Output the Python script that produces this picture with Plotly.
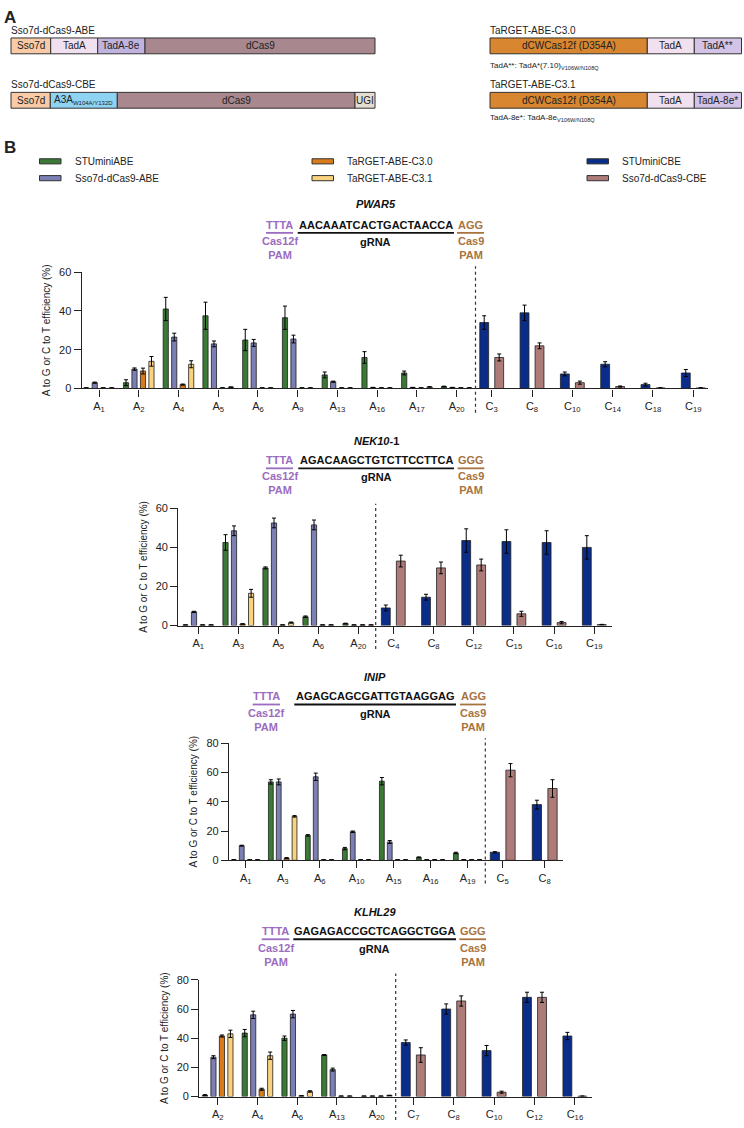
import plotly.graph_objects as go

# ---------------- DATA ----------------
ABE_NAMES = ["STUminiABE", "Sso7d-dCas9-ABE", "TaRGET-ABE-C3.0", "TaRGET-ABE-C3.1"]
CBE_NAMES = ["STUminiCBE", "Sso7d-dCas9-CBE"]

# PWAR5
PWAR5_A_SITES = ["A1", "A2", "A4", "A5", "A6", "A9", "A13", "A16", "A17", "A20"]
PWAR5_STUminiABE = [0.3, 3, 41, 37.5, 25, 36.5, 7, 16, 8, 1]
PWAR5_STUminiABE_SD = [0, 1.5, 6, 7, 5.5, 6, 1.5, 3, 1, 0.2]
PWAR5_Sso7dABE = [3, 10, 26.5, 23, 23.5, 25.5, 3.5, 0.5, 0.5, 0.5]
PWAR5_Sso7dABE_SD = [0.3, 0.6, 2, 1.5, 1.8, 2, 0.3, 0.1, 0.1, 0.1]
PWAR5_C30 = [0.3, 9, 2, 0.3, 0.3, 0.3, 0.3, 0.3, 0.3, 0.3]
PWAR5_C30_SD = [0, 1.5, 0.3, 0, 0, 0, 0, 0, 0, 0]
PWAR5_C31 = [0.3, 14, 12.5, 0.7, 0.3, 0.3, 0.3, 0.3, 0.8, 0.3]
PWAR5_C31_SD = [0, 2.5, 1.8, 0.1, 0, 0, 0, 0, 0.1, 0]
PWAR5_C_SITES = ["C3", "C8", "C10", "C14", "C18", "C19"]
PWAR5_STUminiCBE = [34, 39, 7.5, 12.5, 2, 8]
PWAR5_STUminiCBE_SD = [3.5, 4, 1, 1.3, 0.7, 1.8]
PWAR5_Sso7dCBE = [16, 22, 3, 1, 0.3, 0.3]
PWAR5_Sso7dCBE_SD = [1.8, 1.5, 0.8, 0.3, 0.1, 0.1]

# NEK10-1
NEK10_A_SITES = ["A1", "A3", "A5", "A6", "A20"]
NEK10_STUminiABE = [0.3, 42.5, 29.5, 4.5, 1]
NEK10_STUminiABE_SD = [0, 4, 0.5, 0.4, 0.2]
NEK10_Sso7dABE = [7, 48.5, 52.5, 51.5, 0.3]
NEK10_Sso7dABE_SD = [0.3, 2.5, 2.5, 2.5, 0]
NEK10_C30 = [0.3, 0.8, 0.3, 0.3, 0.3]
NEK10_C30_SD = [0, 0.1, 0, 0, 0]
NEK10_C31 = [0.3, 16.5, 1.5, 0.3, 0.3]
NEK10_C31_SD = [0, 2, 0.3, 0, 0]
NEK10_C_SITES = ["C4", "C8", "C12", "C15", "C16", "C19"]
NEK10_STUminiCBE = [9, 14.5, 43.5, 43, 42.5, 40]
NEK10_STUminiCBE_SD = [1.5, 1.5, 6, 6, 6, 6]
NEK10_Sso7dCBE = [33, 29.5, 31, 6, 1.5, 0.5]
NEK10_Sso7dCBE_SD = [3, 3, 3, 1.3, 0.6, 0.1]

# INIP
INIP_A_SITES = ["A1", "A3", "A6", "A10", "A15", "A16", "A19"]
INIP_STUminiABE = [0.3, 53.5, 17, 8, 54, 2, 5]
INIP_STUminiABE_SD = [0, 1.5, 0.5, 0.8, 2.5, 0.3, 0.5]
INIP_Sso7dABE = [10, 53.5, 57, 19.5, 12.5, 0.3, 0.3]
INIP_Sso7dABE_SD = [0.3, 2, 2.5, 0.5, 1, 0, 0]
INIP_C30 = [0.3, 1.5, 0.3, 0.3, 0.3, 0.3, 0.3]
INIP_C30_SD = [0, 0.3, 0, 0, 0, 0, 0]
INIP_C31 = [0.3, 30, 0.3, 0.3, 0.3, 0.3, 0.3]
INIP_C31_SD = [0, 0.5, 0, 0, 0, 0, 0]
INIP_C_SITES = ["C5", "C8"]
INIP_STUminiCBE = [5.5, 38]
INIP_STUminiCBE_SD = [0.4, 3]
INIP_Sso7dCBE = [61.5, 49]
INIP_Sso7dCBE_SD = [4.5, 6]

# KLHL29
KLHL29_A_SITES = ["A2", "A4", "A6", "A13", "A20"]
KLHL29_STUminiABE = [1, 43.5, 40, 28.5, 0.3]
KLHL29_STUminiABE_SD = [0.3, 2.5, 1.5, 0.3, 0]
KLHL29_Sso7dABE = [27, 56, 56.5, 18.5, 0.3]
KLHL29_Sso7dABE_SD = [1, 2.5, 2.5, 1, 0]
KLHL29_C30 = [41.5, 5, 0.5, 0.3, 0.3]
KLHL29_C30_SD = [0.7, 0.7, 0, 0, 0]
KLHL29_C31 = [43, 28, 3.5, 0.3, 0.8]
KLHL29_C31_SD = [2.5, 2.5, 0.5, 0, 0.1]
KLHL29_C_SITES = ["C7", "C8", "C10", "C12", "C16"]
KLHL29_STUminiCBE = [37, 60, 31.5, 68, 41.5]
KLHL29_STUminiCBE_SD = [1.8, 3.5, 3.5, 3.5, 2.5]
KLHL29_Sso7dCBE = [28.5, 65.5, 3, 68, 0.3]
KLHL29_Sso7dCBE_SD = [5, 3.5, 0.7, 3.5, 0]

GENES = ["PWAR5", "NEK10-1", "INIP", "KLHL29"]
GENE_LABELS = ["<b><i>PWAR5</i></b>", "<b><i>NEK10</i>-1</b>", "<b><i>INIP</i></b>", "<b><i>KLHL29</i></b>"]
SPACER_PAM = ["TTTA", "TTTA", "TTTA", "TTTA"]
GRNA = ["AACAAATCACTGACTAACCA", "AGACAAGCTGTCTTCCTTCA", "AGAGCAGCGATTGTAAGGAG", "GAGAGACCGCTCAGGCTGGA"]
CAS9_PAM = ["AGG", "GGG", "AGG", "GGG"]
Y_TITLE = "A to G or C to T efficiency (%)"

# ---------------- STYLE ----------------
W, H = 744, 1128
def fx(x): return x / W
def fy(y): return 1 - y / H

COLORS = {
    "STUminiABE": "#3b7a36",
    "Sso7d-dCas9-ABE": "#7b7fb3",
    "TaRGET-ABE-C3.0": "#d97b1a",
    "TaRGET-ABE-C3.1": "#f8d27f",
    "STUminiCBE": "#0b2d8a",
    "Sso7d-dCas9-CBE": "#ad7c78",
}
PURPLE = "#9c6cc0"
BROWN = "#a8733f"
FONT = "Arial, Liberation Sans, sans-serif"
OUTLINE = "#1f1f1f"

A_CENTERS = [-0.32, -0.107, 0.107, 0.32]
A_W = 0.13
C_CENTERS = [-0.186, 0.186]
C_W = 0.22

panels = [
    dict(A_sites=PWAR5_A_SITES, C_sites=PWAR5_C_SITES,
         A_vals=[PWAR5_STUminiABE, PWAR5_Sso7dABE, PWAR5_C30, PWAR5_C31],
         A_sd=[PWAR5_STUminiABE_SD, PWAR5_Sso7dABE_SD, PWAR5_C30_SD, PWAR5_C31_SD],
         C_vals=[PWAR5_STUminiCBE, PWAR5_Sso7dCBE], C_sd=[PWAR5_STUminiCBE_SD, PWAR5_Sso7dCBE_SD],
         y0=386.6, ytop=269, ymax=60, A=(81.7, 475.5, 99, 39.74), C=(475.5, 708, 491.7, 40.32),
         dash=(263, 411), gene_y=200.5, seq_y=221, line_y=229.3, sub_y=245,
         pam1=(266, 293), seq=(297.7, 454), pam2=(457, 484)),
    dict(A_sites=NEK10_A_SITES, C_sites=NEK10_C_SITES,
         A_vals=[NEK10_STUminiABE, NEK10_Sso7dABE, NEK10_C30, NEK10_C31],
         A_sd=[NEK10_STUminiABE_SD, NEK10_Sso7dABE_SD, NEK10_C30_SD, NEK10_C31_SD],
         C_vals=[NEK10_STUminiCBE, NEK10_Sso7dCBE], C_sd=[NEK10_STUminiCBE_SD, NEK10_Sso7dCBE_SD],
         y0=626.2, ytop=507.7, ymax=60, A=(178.3, 375.7, 198.3, 40.0), C=(375.7, 611.7, 393.3, 40.2),
         dash=(503, 650), gene_y=439.3, seq_y=459, line_y=467.3, sub_y=482.5,
         pam1=(266, 293), seq=(298.3, 454), pam2=(457.7, 484.3)),
    dict(A_sites=INIP_A_SITES, C_sites=INIP_C_SITES,
         A_vals=[INIP_STUminiABE, INIP_Sso7dABE, INIP_C30, INIP_C31],
         A_sd=[INIP_STUminiABE_SD, INIP_Sso7dABE_SD, INIP_C30_SD, INIP_C31_SD],
         C_vals=[INIP_STUminiCBE, INIP_Sso7dCBE], C_sd=[INIP_STUminiCBE_SD, INIP_Sso7dCBE_SD],
         y0=863.5, ytop=745, ymax=80, A=(229, 485.3, 245.7, 37.0), C=(485.3, 562.7, 502.7, 42.0),
         dash=(740, 887), gene_y=678.3, seq_y=697.7, line_y=706, sub_y=721.2,
         pam1=(252.7, 280), seq=(294.3, 456), pam2=(460, 486)),
    dict(A_sites=KLHL29_A_SITES, C_sites=KLHL29_C_SITES,
         A_vals=[KLHL29_STUminiABE, KLHL29_Sso7dABE, KLHL29_C30, KLHL29_C31],
         A_sd=[KLHL29_STUminiABE_SD, KLHL29_Sso7dABE_SD, KLHL29_C30_SD, KLHL29_C31_SD],
         C_vals=[KLHL29_STUminiCBE, KLHL29_Sso7dCBE], C_sd=[KLHL29_STUminiCBE_SD, KLHL29_Sso7dCBE_SD],
         y0=1102.3, ytop=984.3, ymax=80, A=(199.3, 395.7, 217.7, 39.75), C=(395.7, 592.3, 413.3, 40.4),
         dash=(978, 1126), gene_y=916, seq_y=935, line_y=943.3, sub_y=958.7,
         pam1=(261.7, 289.3), seq=(293.3, 456), pam2=(459.3, 486)),
]


def sub_label(s):
    return f"{s[0]}<sub>{s[1:]}</sub>"


fig = go.Figure()
layout = {}
shapes = []
annotations = []


def text(x, y, t, size=10, anchor="left", color="#222"):
    annotations.append(dict(text=t, x=fx(x), y=fy(y), xref="paper", yref="paper",
                            xanchor=anchor, yanchor="middle", showarrow=False,
                            font=dict(size=size, color=color, family=FONT)))


for i, p in enumerate(panels):
    xa_id, xc_id, y_id = 2 * i + 1, 2 * i + 2, i + 1
    xa = "x" if xa_id == 1 else f"x{xa_id}"
    xc = f"x{xc_id}"
    ya = "y" if y_id == 1 else f"y{y_id}"
    err_common = dict(type="data", visible=True, color="#000000", thickness=1, width=2)
    for k, name in enumerate(ABE_NAMES):
        fig.add_trace(go.Bar(
            x=p["A_sites"], y=p["A_vals"][k], name=name, showlegend=False,
            xaxis=xa, yaxis=ya, offset=A_CENTERS[k] - A_W / 2, width=A_W,
            marker=dict(color=COLORS[name], line=dict(color=OUTLINE, width=0.8)),
            error_y=dict(array=p["A_sd"][k], **err_common)))
    for k, name in enumerate(CBE_NAMES):
        fig.add_trace(go.Bar(
            x=p["C_sites"], y=p["C_vals"][k], name=name, showlegend=False,
            xaxis=xc, yaxis=ya, offset=C_CENTERS[k] - C_W / 2, width=C_W,
            marker=dict(color=COLORS[name], line=dict(color=OUTLINE, width=0.8)),
            error_y=dict(array=p["C_sd"][k], **err_common)))

    common_x = dict(type="category", showline=True, linecolor="#222", linewidth=1.3,
                    ticks="outside", ticklen=7, tickwidth=1.2, tickcolor="#222",
                    showgrid=False, zeroline=False, fixedrange=True,
                    tickfont=dict(size=11, color="#222", family=FONT), anchor=ya)
    for key_id, sites, geo in ((xa_id, p["A_sites"], p["A"]), (xc_id, p["C_sites"], p["C"])):
        d0, d1, c0, s = geo
        key = "xaxis" if key_id == 1 else f"xaxis{key_id}"
        layout[key] = dict(domain=[fx(d0), fx(d1)], range=[(d0 - c0) / s, (d1 - c0) / s],
                           categoryorder="array", categoryarray=sites,
                           tickmode="array", tickvals=sites,
                           ticktext=[sub_label(s_) for s_ in sites], **common_x)
    ykey = "yaxis" if y_id == 1 else f"yaxis{y_id}"
    layout[ykey] = dict(domain=[fy(p["y0"]), fy(p["ytop"])], range=[0, p["ymax"]],
                        anchor=xa, dtick=20, tick0=0, showline=True, linecolor="#222",
                        linewidth=1.3, ticks="outside", ticklen=7, tickwidth=1.2,
                        tickcolor="#222", showgrid=False, zeroline=False, fixedrange=True,
                        tickfont=dict(size=11, color="#222", family=FONT),
                        title=dict(text=Y_TITLE, standoff=6,
                                   font=dict(size=10, color="#222", family=FONT)))

    # separator dashed line
    shapes.append(dict(type="line", xref=f"{xc} domain", yref="paper", x0=0, x1=0,
                       y0=fy(p["dash"][1]), y1=fy(p["dash"][0]),
                       line=dict(color="#333", width=1.2, dash="3px,3px")))

    # header
    pam1, seq, pam2 = p["pam1"], p["seq"], p["pam2"]
    text((seq[0] + seq[1]) / 2, p["gene_y"], GENE_LABELS[i], size=11, anchor="center", color="#111")
    for (a, b), txt, col in ((pam1, SPACER_PAM[i], PURPLE), (seq, GRNA[i], "#111"), (pam2, CAS9_PAM[i], BROWN)):
        text((a + b) / 2, p["seq_y"], f"<b>{txt}</b>", size=11, anchor="center", color=col)
        shapes.append(dict(type="line", xref="paper", yref="paper", x0=fx(a), x1=fx(b),
                           y0=fy(p["line_y"]), y1=fy(p["line_y"]),
                           line=dict(color=col, width=1.8)))
    for (a, b), txt, col in ((pam1, "Cas12f<br>PAM", PURPLE), (seq, "gRNA", "#111"), (pam2, "Cas9<br>PAM", BROWN)):
        yy = p["sub_y"] if "<br>" in txt else p["sub_y"] - 6
        text((a + b) / 2, yy, f"<b>{txt}</b>", size=11, anchor="center", color=col)

# ---------------- PANEL A (schematics) ----------------
def box(x0, x1, y0, y1, color, label, size=10):
    shapes.append(dict(type="rect", xref="paper", yref="paper", x0=fx(x0), x1=fx(x1),
                       y0=fy(y1), y1=fy(y0), fillcolor=color,
                       line=dict(color="#333", width=1)))
    text((x0 + x1) / 2, (y0 + y1) / 2, label, size=size, anchor="center")


SSO7D = "#f8caa5"; TADA = "#f1e0ef"; TADA8E = "#c0b3de"; DCAS9 = "#a8878e"
A3A = "#8fd3f2"; UGI = "#e4ddd0"; CAS12F = "#d8862f"; TADASTAR = "#d3c3e6"

text(2, 12, "<b>A</b>", size=17)
text(9, 25, "Sso7d-dCas9-ABE")
box(11, 50.7, 32.3, 48.3, SSO7D, "Sso7d")
box(50.7, 97.7, 32.3, 48.3, TADA, "TadA")
box(97.7, 145, 32.3, 48.3, TADA8E, "TadA-8e")
box(145, 375, 32.3, 48.3, DCAS9, "dCas9")
text(9, 79, "Sso7d-dCas9-CBE")
box(11, 50.3, 87.3, 103.3, SSO7D, "Sso7d")
box(50.3, 117.3, 87.3, 103.3, A3A,
    "A3A<sub><span style='font-size:6px'>W104A/Y132D</span></sub>", size=10)
box(117.3, 355, 87.3, 103.3, DCAS9, "dCas9")
box(355, 375, 87.3, 103.3, UGI, "UGI")

text(488, 25, "TaRGET-ABE-C3.0")
box(490, 647.3, 32.3, 48.3, CAS12F, "dCWCas12f (D354A)")
box(647.3, 694.3, 32.3, 48.3, TADA, "TadA")
box(694.3, 741.5, 32.3, 48.3, TADASTAR, "TadA**")
text(488, 61, "TadA**: TadA*(7.10)<sub>V106W/N108Q</sub>", size=8)
text(488, 79, "TaRGET-ABE-C3.1")
box(490, 647.3, 87.3, 103.3, CAS12F, "dCWCas12f (D354A)")
box(647.3, 694.3, 87.3, 103.3, TADA, "TadA")
box(694.3, 741.5, 87.3, 103.3, TADASTAR, "TadA-8e*")
text(488, 113, "TadA-8e*: TadA-8e<sub>V106W/N108Q</sub>", size=8)

text(2, 143, "<b>B</b>", size=17)

# ---------------- legend (manual) ----------------
legend_items = [("STUminiABE", 0, 0), ("Sso7d-dCas9-ABE", 0, 1),
                ("TaRGET-ABE-C3.0", 1, 0), ("TaRGET-ABE-C3.1", 1, 1),
                ("STUminiCBE", 2, 0), ("Sso7d-dCas9-CBE", 2, 1)]
col_x = [39.5, 312, 587]
row_y = [157, 174]
for name, c, r in legend_items:
    x0 = col_x[c]
    y = row_y[r]
    shapes.append(dict(type="rect", xref="paper", yref="paper", x0=fx(x0), x1=fx(x0 + 21.5),
                       y0=fy(y + 2.6), y1=fy(y - 2.6), fillcolor=COLORS[name],
                       line=dict(color="#333", width=1)))
    text(x0 + 33, y, name, size=10)

fig.update_layout(
    width=W, height=H, autosize=False,
    margin=dict(l=0, r=0, t=0, b=0),
    paper_bgcolor="white", plot_bgcolor="white",
    barmode="overlay", showlegend=False,
    font=dict(family=FONT, color="#222"),
    shapes=shapes, annotations=annotations,
    **layout,
)

fig.write_html("out.html", config={"displayModeBar": False},
               post_script="document.body.style.margin='0px';document.body.style.overflow='hidden';")
